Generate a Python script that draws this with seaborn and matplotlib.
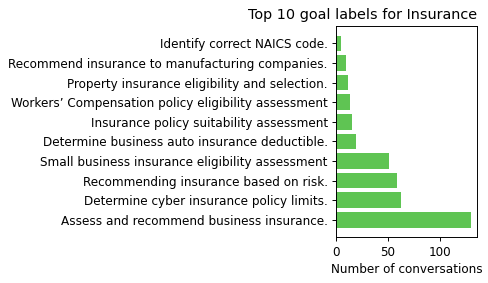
import matplotlib
matplotlib.use('Agg')
import matplotlib.pyplot as plt
import seaborn as sns
import pandas as pd

labels = [
    'Identify correct NAICS code.',
    'Recommend insurance to manufacturing companies.',
    'Property insurance eligibility and selection.',
    'Workers\u2019 Compensation policy eligibility assessment',
    'Insurance policy suitability assessment',
    'Determine business auto insurance deductible.',
    'Small business insurance eligibility assessment',
    'Recommending insurance based on risk.',
    'Determine cyber insurance policy limits.',
    'Assess and recommend business insurance.',
]
counts = [5, 9, 11, 13, 15, 19, 51, 59, 63, 130]

df = pd.DataFrame({'label': labels, 'count': counts})

dpi = 86.6
fig, ax = plt.subplots(figsize=(488 / dpi, 283 / dpi), dpi=dpi)
sns.barplot(data=df, x='count', y='label', orient='h', color='#5fc453',
            saturation=1, width=0.8, ax=ax)

n = len(labels)
ax.set_ylim(n - 1 + 0.4 + 0.49, -0.4 - 0.49)
ax.set_xlim(0, max(counts) * 1.05)
ax.set_ylabel('')
ax.set_xlabel('Number of conversations')
ax.set_title('Top 10 goal labels for Insurance', loc='right')

fig.subplots_adjust(left=0.689, right=0.978, top=0.908, bottom=0.162)
fig.savefig('out.png', dpi=dpi)
